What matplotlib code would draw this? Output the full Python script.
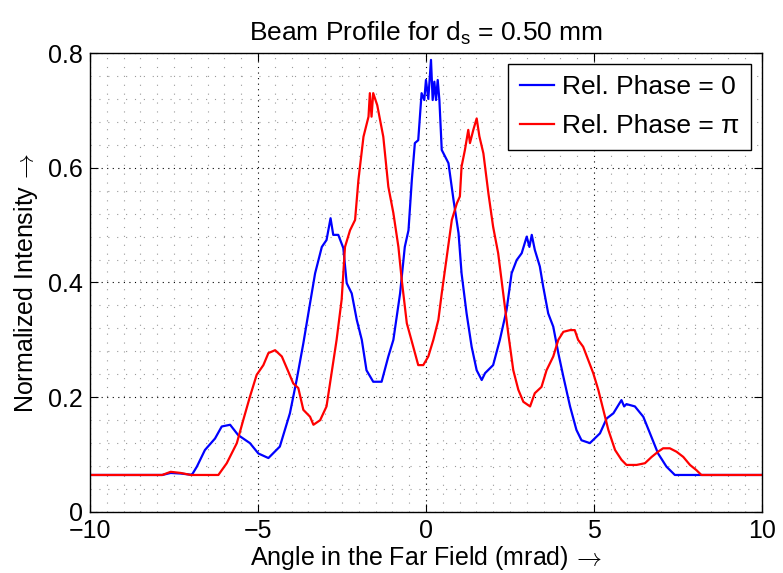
import numpy as np
import matplotlib
matplotlib.use("Agg")
import matplotlib.pyplot as plt
from matplotlib.ticker import MultipleLocator

plt.rcParams['font.family'] = ['Liberation Sans', 'DejaVu Sans']
plt.rcParams['mathtext.fontset'] = 'custom'
plt.rcParams['mathtext.rm'] = 'Liberation Sans'
plt.rcParams['mathtext.it'] = 'Liberation Sans'

# ==============================
# Data
# ==============================
BASE = 0.0645

blue_x = [-10, -7.85, -7.6, -7.3, -7.0, -6.97, -6.82, -6.58, -6.28, -6.08, -5.83,
          -5.59, -5.24, -4.99, -4.69, -4.35, -4.05, -3.85, -3.65, -3.45, -3.30,
          -3.10, -2.96, -2.84, -2.76, -2.61, -2.46, -2.36, -2.21, -2.06, -1.91,
          -1.77, -1.57, -1.32, -1.12, -0.97, -0.77, -0.63, -0.52, -0.42, -0.33,
          -0.23, -0.13, -0.05, 0.0, 0.07, 0.15, 0.20, 0.25, 0.30, 0.35, 0.40,
          0.47, 0.67, 0.82, 0.97, 1.06, 1.21, 1.36, 1.51, 1.66, 1.76, 2.00,
          2.20, 2.40, 2.55, 2.70, 2.85, 3.00, 3.08, 3.15, 3.24, 3.39, 3.49,
          3.64, 3.79, 3.94, 4.09, 4.29, 4.48, 4.63, 4.88, 5.18, 5.38, 5.58,
          5.82, 5.90, 5.97, 6.22, 6.47, 6.67, 6.91, 7.16, 7.41, 10]
blue_y = [BASE, BASE, 0.068, 0.067, 0.065, BASE, 0.079, 0.108, 0.128, 0.149, 0.152,
          0.134, 0.120, 0.102, 0.094, 0.114, 0.172, 0.230, 0.294, 0.364, 0.416,
          0.462, 0.474, 0.512, 0.483, 0.483, 0.460, 0.399, 0.381, 0.335, 0.300,
          0.247, 0.227, 0.227, 0.271, 0.300, 0.381, 0.462, 0.491, 0.579, 0.643,
          0.648, 0.730, 0.718, 0.753, 0.720, 0.788, 0.718, 0.750, 0.718, 0.753,
          0.718, 0.631, 0.608, 0.544, 0.486, 0.416, 0.346, 0.288, 0.247, 0.230,
          0.242, 0.256, 0.300, 0.352, 0.416, 0.439, 0.451, 0.480, 0.462, 0.483,
          0.457, 0.428, 0.393, 0.346, 0.323, 0.277, 0.236, 0.184, 0.143, 0.125,
          0.120, 0.137, 0.163, 0.172, 0.195, 0.184, 0.188, 0.184, 0.166, 0.137,
          0.102, 0.079, BASE, BASE]

red_x = [-10, -7.85, -7.6, -7.3, -7.0, -6.18, -5.93, -5.63, -5.44, -5.24, -5.04,
         -4.84, -4.69, -4.49, -4.29, -4.10, -3.95, -3.80, -3.65, -3.45, -3.35,
         -3.15, -2.96, -2.81, -2.66, -2.51, -2.41, -2.26, -2.11, -2.01, -1.86,
         -1.71, -1.67, -1.62, -1.57, -1.45, -1.27, -1.12, -0.97, -0.82, -0.72,
         -0.57, -0.42, -0.23, -0.08, 0.07, 0.22, 0.37, 0.47, 0.62, 0.77, 0.92,
         1.01, 1.06, 1.16, 1.26, 1.31, 1.41, 1.51, 1.59, 1.71, 1.86, 2.00,
         2.15, 2.30, 2.45, 2.60, 2.75, 2.90, 3.10, 3.24, 3.44, 3.59, 3.79,
         3.94, 4.09, 4.29, 4.43, 4.53, 4.68, 4.83, 4.98, 5.13, 5.28, 5.43,
         5.63, 5.82, 5.97, 6.27, 6.52, 6.72, 6.91, 7.06, 7.26, 7.46, 7.66,
         7.86, 8.05, 8.20, 10]
red_y = [BASE, BASE, 0.070, 0.068, BASE, BASE, 0.085, 0.120, 0.160, 0.201, 0.239,
         0.256, 0.277, 0.282, 0.271, 0.245, 0.224, 0.216, 0.178, 0.166, 0.152,
         0.160, 0.184, 0.242, 0.300, 0.370, 0.462, 0.491, 0.509, 0.579, 0.654,
         0.689, 0.730, 0.689, 0.730, 0.709, 0.654, 0.567, 0.521, 0.462, 0.404,
         0.329, 0.297, 0.256, 0.256, 0.271, 0.300, 0.335, 0.381, 0.445, 0.509,
         0.538, 0.550, 0.602, 0.631, 0.666, 0.643, 0.666, 0.686, 0.655, 0.625,
         0.555, 0.497, 0.451, 0.381, 0.311, 0.247, 0.213, 0.192, 0.184, 0.207,
         0.218, 0.247, 0.271, 0.300, 0.314, 0.317, 0.317, 0.300, 0.288, 0.265,
         0.242, 0.213, 0.178, 0.143, 0.108, 0.091, 0.082, 0.082, 0.085, 0.096,
         0.105, 0.111, 0.111, 0.105, 0.096, 0.082, 0.073, BASE, BASE]

x_ticks = [-10, -5, 0, 5, 10]
x_ticklabels = ["\u221210", "\u22125", "0", "5", "10"]
y_ticks = [0, 0.2, 0.4, 0.6, 0.8]
y_ticklabels = ["0", "0.2", "0.4", "0.6", "0.8"]

# ==============================
# Plot
# ==============================
fig = plt.figure(figsize=(7.83, 5.73), dpi=100)
ax = fig.add_axes([0.115, 0.1065, 0.858, 0.801])

ax.plot(blue_x, blue_y, color="#0000ff", lw=1.6, label="Rel. Phase = 0")
ax.plot(red_x, red_y, color="#ff0000", lw=1.6, label="Rel. Phase = \u03c0")

ax.set_xlim(-10, 10)
ax.set_ylim(0, 0.8)
ax.set_xticks(x_ticks)
ax.set_xticklabels(x_ticklabels)
ax.set_yticks(y_ticks)
ax.set_yticklabels(y_ticklabels)
ax.xaxis.set_minor_locator(MultipleLocator(0.5))
ax.yaxis.set_minor_locator(MultipleLocator(0.04))

ax.grid(which="major", color="black", linestyle=(0, (1, 4)), lw=0.8)
ax.grid(which="minor", color="#9a9a9a", linestyle=(0, (1, 7)), lw=0.8)
ax.tick_params(which="both", direction="in", top=True, right=True, labelsize=18, pad=5)
ax.tick_params(which="major", length=6)
ax.tick_params(which="minor", length=0)
for s in ax.spines.values():
    s.set_linewidth(1.0)

ax.set_title("Beam Profile for d$_{\\rm s}$ = 0.50 mm", fontsize=19, pad=9)
ax.set_xlabel("Angle in the Far Field (mrad)$\\,\\rightarrow$", fontsize=18,
              labelpad=1, math_fontfamily="cm")
ax.set_ylabel("Normalized Intensity$\\,\\rightarrow$", fontsize=18,
              labelpad=6, math_fontfamily="cm")

leg = ax.legend(loc="upper right", fontsize=19, handlelength=1.3,
                fancybox=False, framealpha=1, edgecolor="black",
                borderaxespad=0.4, handletextpad=0.3, borderpad=0.45,
                labelspacing=0.55)
leg.get_frame().set_linewidth(1.0)

fig.savefig("out.png", dpi=100)
